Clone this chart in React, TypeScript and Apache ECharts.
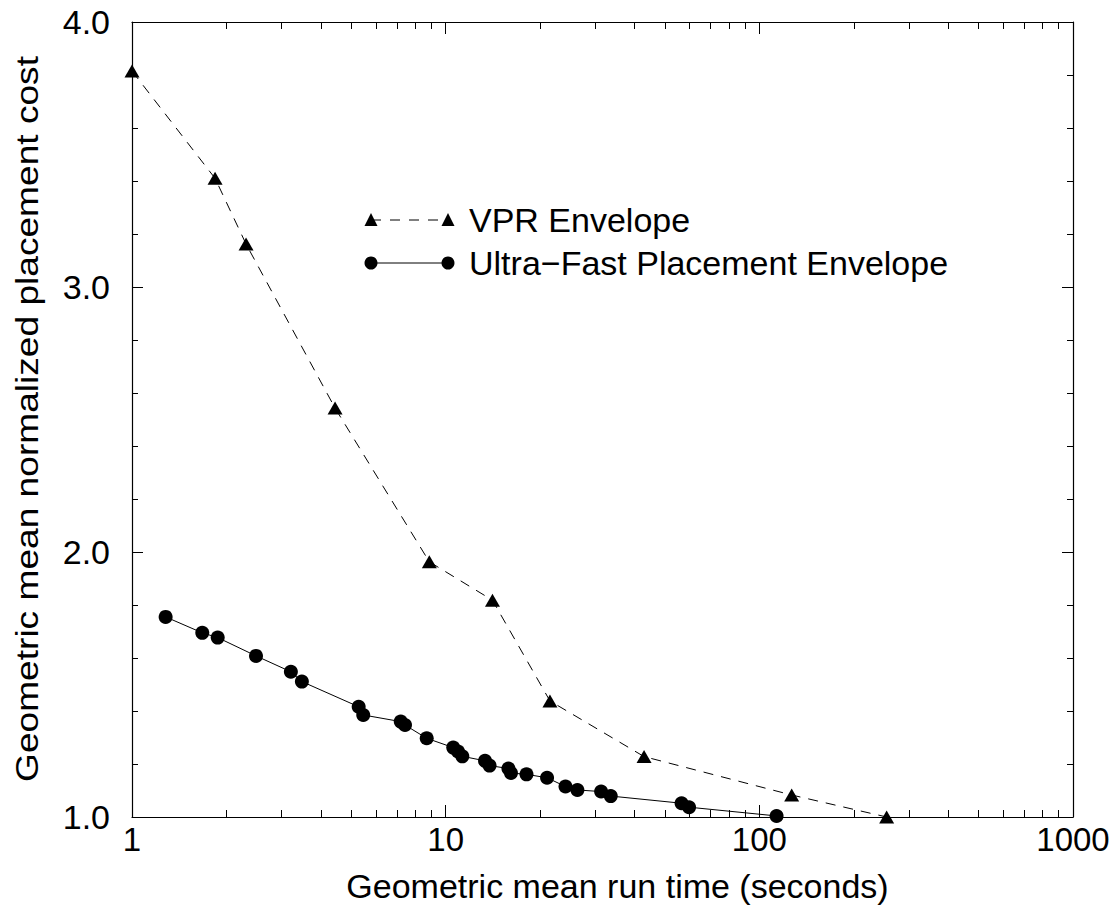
import React, { useEffect, useRef } from "react";
import * as echarts from "echarts";

const vprTime = [1.0, 1.84, 2.31, 4.44, 8.87, 14.1, 21.5, 42.9, 126.8, 254.6];
const vprCost = [3.815, 3.41, 3.162, 2.543, 1.963, 1.818, 1.438, 1.228, 1.083, 1.0];

const ufpTime = [1.28, 1.675, 1.876, 2.485, 3.21, 3.48, 5.28, 5.46, 7.19, 7.42, 8.7, 10.57, 10.95, 11.3, 13.35, 13.8, 15.85, 16.15, 18.1, 21.05, 24.1, 26.3, 31.3, 33.6, 56.5, 59.7, 113.5];
const ufpCost = [1.755, 1.695, 1.677, 1.608, 1.548, 1.511, 1.416, 1.385, 1.36, 1.347, 1.297, 1.262, 1.247, 1.229, 1.212, 1.194, 1.183, 1.166, 1.161, 1.148, 1.115, 1.102, 1.096, 1.079, 1.052, 1.037, 1.004];

const xMajorTicks = [1, 10, 100, 1000];
const xMinorTicks = [2, 3, 4, 5, 6, 7, 8, 9, 20, 30, 40, 50, 60, 70, 80, 90, 200, 300, 400, 500, 600, 700, 800, 900];

const seriesNames = ["VPR Envelope", "Ultra\u2212Fast Placement Envelope"];
const xTitle = "Geometric mean run time (seconds)";
const yTitle = "Geometric mean normalized placement cost";

const FONT = "'Liberation Sans', Arial, Helvetica, sans-serif";

export default function App() {
  const ref = useRef<HTMLDivElement>(null);
  useEffect(() => {
    if (!ref.current) return;
    const chart = echarts.init(ref.current, null, { renderer: "svg" });
    const axisLine = { show: true, lineStyle: { color: "#000", width: 1.2 } };
    const majorX = (position: string, labels: boolean) => ({
      type: "log",
      logBase: 10,
      min: 1,
      max: 1000,
      position,
      axisLine,
      axisTick: { show: true, inside: true, length: 12, customValues: xMajorTicks, lineStyle: { color: "#000", width: 1 } },
      axisLabel: {
        show: labels,
        customValues: xMajorTicks,
        color: "#000",
        fontSize: 33,
        fontFamily: FONT,
        margin: 6,
        formatter: (v: number) => String(Math.round(v)),
      },
      splitLine: { show: false },
    });
    const minorX = (position: string) => ({
      type: "log",
      logBase: 10,
      min: 1,
      max: 1000,
      position,
      axisLine: { show: false },
      axisTick: { show: true, inside: true, length: 7, customValues: xMinorTicks, lineStyle: { color: "#000", width: 1 } },
      axisLabel: { show: false },
      splitLine: { show: false },
    });
    const yAx = (position: string, labels: boolean) => ({
      type: "value",
      min: 1,
      max: 4,
      interval: 1,
      position,
      axisLine,
      axisTick: { show: true, inside: true, length: 11, lineStyle: { color: "#000", width: 1 } },
      minorTick: { show: true, splitNumber: 5, length: 6, lineStyle: { color: "#000", width: 1 } },
      axisLabel: {
        show: labels,
        color: "#000",
        fontSize: 34,
        fontFamily: FONT,
        margin: 22,
        formatter: (v: number) => v.toFixed(1),
      },
      splitLine: { show: false },
    });

    const legY1 = 220;
    const legY2 = 263;
    const legX1 = 371;
    const legX2 = 448;
    const tri = (cx: number, cy: number) => ({
      type: "polygon",
      shape: { points: [[cx - 6.5, cy + 6], [cx, cy - 7], [cx + 6.5, cy + 6]] },
      style: { fill: "#000" },
    });

    chart.setOption({
      animation: false,
      backgroundColor: "#fff",
      grid: { left: 132, right: 45, top: 22, bottom: 90, containLabel: false, outerBoundsMode: "none" },
      xAxis: [
        {
          ...majorX("bottom", true),
          name: xTitle,
          nameLocation: "middle",
          nameGap: 52,
          nameTextStyle: { color: "#000", fontSize: 34, fontFamily: FONT, padding: [0, 0, 0, 30] },
        },
        minorX("bottom"),
        majorX("top", false),
        minorX("top"),
      ],
      yAxis: [yAx("left", true), yAx("right", false)],
      series: [
        {
          name: seriesNames[0],
          type: "line",
          xAxisIndex: 0,
          yAxisIndex: 0,
          data: vprTime.map((t, i) => [t, vprCost[i]]),
          symbol: "triangle",
          symbolSize: [15, 13],
          clip: false,
          itemStyle: { color: "#000" },
          lineStyle: { color: "#000", width: 1, type: [10, 8] },
        },
        {
          name: seriesNames[1],
          type: "line",
          xAxisIndex: 0,
          yAxisIndex: 0,
          data: ufpTime.map((t, i) => [t, ufpCost[i]]),
          symbol: "circle",
          symbolSize: 14,
          clip: false,
          itemStyle: { color: "#000" },
          lineStyle: { color: "#000", width: 1 },
        },
      ],
      graphic: [
        {
          type: "text",
          x: 27,
          y: 419,
          rotation: Math.PI / 2,
          scaleX: 1.16,
          style: {
            text: yTitle,
            fontSize: 32,
            fontFamily: FONT,
            fill: "#000",
            textAlign: "center",
            textVerticalAlign: "middle",
          },
        },
        {
          type: "line",
          shape: { x1: legX1, y1: legY1, x2: legX2, y2: legY1 },
          style: { stroke: "#000", lineWidth: 1, lineDash: [10, 9] },
        },
        tri(legX1, legY1),
        tri(legX2, legY1),
        {
          type: "text",
          x: 469,
          y: legY1,
          style: { text: seriesNames[0], fontSize: 34, fontFamily: FONT, fill: "#000", textVerticalAlign: "middle" },
        },
        {
          type: "line",
          shape: { x1: legX1, y1: legY2, x2: legX2, y2: legY2 },
          style: { stroke: "#000", lineWidth: 1 },
        },
        { type: "circle", shape: { cx: legX1, cy: legY2, r: 6.5 }, style: { fill: "#000" } },
        { type: "circle", shape: { cx: legX2, cy: legY2, r: 6.5 }, style: { fill: "#000" } },
        {
          type: "text",
          x: 469,
          y: legY2,
          style: { text: seriesNames[1], fontSize: 34, fontFamily: FONT, fill: "#000", textVerticalAlign: "middle" },
        },
      ],
    });
    return () => chart.dispose();
  }, []);
  return <div ref={ref} style={{ width: 1118, height: 907, position: "absolute", left: 0, top: 0 }} />;
}
